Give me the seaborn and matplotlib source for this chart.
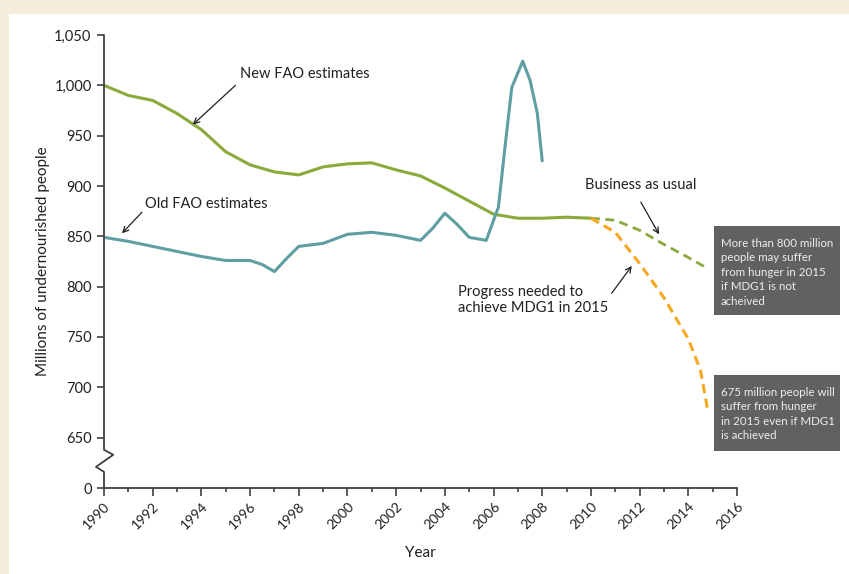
import numpy as np
import pandas as pd
import matplotlib.pyplot as plt
import seaborn as sns
from matplotlib.patches import Rectangle
from matplotlib.ticker import MultipleLocator

# data (millions of people)
new_years = [1990, 1991, 1992, 1993, 1994, 1995, 1996, 1997, 1998, 1999, 2000,
             2001, 2002, 2003, 2004, 2005, 2006, 2007, 2008, 2009, 2010]
new_fao = [1000, 990, 985, 972, 956, 934, 921, 914, 911, 919, 922,
           923, 916, 910, 898, 885, 872, 868, 868, 869, 868]

old_years = [1990, 1991, 1992, 1993, 1994, 1995, 1996, 1996.5, 1997, 1997.5, 1998,
             1999, 2000, 2001, 2002, 2003, 2003.5, 2004, 2004.5, 2005, 2005.7,
             2006.2, 2006.5, 2006.75, 2007.2, 2007.5, 2007.8, 2008]
old_fao = [849, 845, 840, 835, 830, 826, 826, 822, 815, 828, 840,
           843, 852, 854, 851, 846, 858, 873, 862, 849, 846,
           879, 945, 998, 1024, 1005, 972, 925]

bau_years = [2010, 2011, 2012, 2013, 2014, 2014.8]
bau_vals = [868, 866, 856, 842, 829, 818]

mdg_years = [2010, 2011, 2012, 2013, 2014, 2014.5, 2014.8]
mdg_vals = [868, 854, 823, 789, 748, 717, 677]

# axis break: 600 on the plot is shown as "0"
ytick_vals = [600, 650, 700, 750, 800, 850, 900, 950, 1000, 1050]
ytick_labels = ["0", "650", "700", "750", "800", "850", "900", "950", "1,000", "1,050"]
xtick_vals = list(range(1990, 2017, 2))

green = "#8aaa3c"
teal = "#5f9ea2"
orange = "#f7a823"
dark = "#231f20"
axis_col = "#404040"

sns.set_style("white")
plt.rcParams["font.family"] = ["Lato", "DejaVu Sans"]

fig = plt.figure(figsize=(8.49, 5.74), dpi=100, facecolor="#f5edda")
W, H = 849, 574
fig.patches.append(Rectangle((9 / W, 0), 1, (H - 14) / H, transform=fig.transFigure,
                             facecolor="white", edgecolor="none", zorder=-10))

ax = fig.add_axes([104 / W, 86 / H, 633 / W, 453 / H])
ax.set_facecolor("none")
ax.set_zorder(1)

sns.lineplot(x=new_years, y=new_fao, color=green, lw=2.2, ax=ax)
sns.lineplot(x=old_years, y=old_fao, color=teal, lw=2.2, ax=ax)
sns.lineplot(x=bau_years, y=bau_vals, color=green, lw=2.0, linestyle=(0, (3.2, 2.0)), ax=ax)
sns.lineplot(x=mdg_years, y=mdg_vals, color=orange, lw=2.2, linestyle=(0, (3.0, 1.8)), ax=ax)

ax.set_xlim(1990, 2016)
ax.set_ylim(600, 1050)
ax.set_xticks(xtick_vals)
ax.set_xticklabels([str(v) for v in xtick_vals], rotation=45, ha="right",
                   rotation_mode="anchor", fontsize=10, color=dark)
ax.xaxis.set_minor_locator(MultipleLocator(1))
ax.set_yticks(ytick_vals)
ax.set_yticklabels(ytick_labels, fontsize=10.5, color=dark)
ax.tick_params(axis="x", which="major", direction="out", length=6, width=1.2,
               color=axis_col, pad=3, bottom=True)
ax.tick_params(axis="x", which="minor", direction="out", length=3, width=1.2,
               color=axis_col, bottom=True)
ax.tick_params(axis="y", direction="out", length=5, width=1.2, color=axis_col,
               pad=4, left=True)

for s in ["top", "right", "left"]:
    ax.spines[s].set_visible(False)
ax.spines["bottom"].set_color(axis_col)
ax.spines["bottom"].set_linewidth(1.3)

# left axis with a zigzag break
ax.plot([1990, 1990, 1990.38, 1989.67, 1990, 1990],
        [1050, 638, 633, 621, 616, 600], color=axis_col, lw=1.3, clip_on=False, zorder=5)

ax.set_xlabel("Year", fontsize=11, color=dark, labelpad=10)
ax.set_ylabel("Millions of undernourished people", fontsize=11, color=dark, labelpad=3)

arrow = dict(arrowstyle="->", color=dark, lw=0.9, shrinkA=0, shrinkB=0)
ax.annotate("New FAO estimates", xy=(1995.6, 1011), fontsize=10.5, color=dark,
            va="center", ha="left")
ax.annotate("", xy=(1993.65, 961), xytext=(1995.4, 1000), arrowprops=arrow)
ax.annotate("Old FAO estimates", xy=(1991.7, 882), fontsize=10.5, color=dark,
            va="center", ha="left")
ax.annotate("", xy=(1990.74, 853), xytext=(1991.56, 874), arrowprops=arrow)
ax.annotate("Business as usual", xy=(2009.75, 901), fontsize=10.5, color=dark,
            va="center", ha="left")
ax.annotate("", xy=(2012.8, 852), xytext=(2012.05, 884), arrowprops=arrow)
ax.annotate("Progress needed to\nachieve MDG1 in 2015", xy=(2004.54, 787), fontsize=10.5,
            color=dark, va="center", ha="left", linespacing=1.15)
ax.annotate("", xy=(2011.68, 820.6), xytext=(2010.85, 793.4), arrowprops=arrow)

# grey call-out boxes
for (y0, y1, txt) in [(226, 315, "More than 800 million\npeople may suffer\nfrom hunger in 2015\nif MDG1 is not\nacheived"),
                      (375, 451, "675 million people will\nsuffer from hunger\nin 2015 even if MDG1\nis achieved")]:
    fig.patches.append(Rectangle((714 / W, (H - y1) / H), 126 / W, (y1 - y0) / H,
                                 transform=fig.transFigure, facecolor="#616161",
                                 edgecolor="none", zorder=3))
    fig.text(721 / W, (H - y0 - 12) / H, txt, fontsize=8.3, color="#eeeeee",
             va="top", ha="left", linespacing=1.38, zorder=4)

fig.savefig("out.png", dpi=100, facecolor=fig.get_facecolor())
